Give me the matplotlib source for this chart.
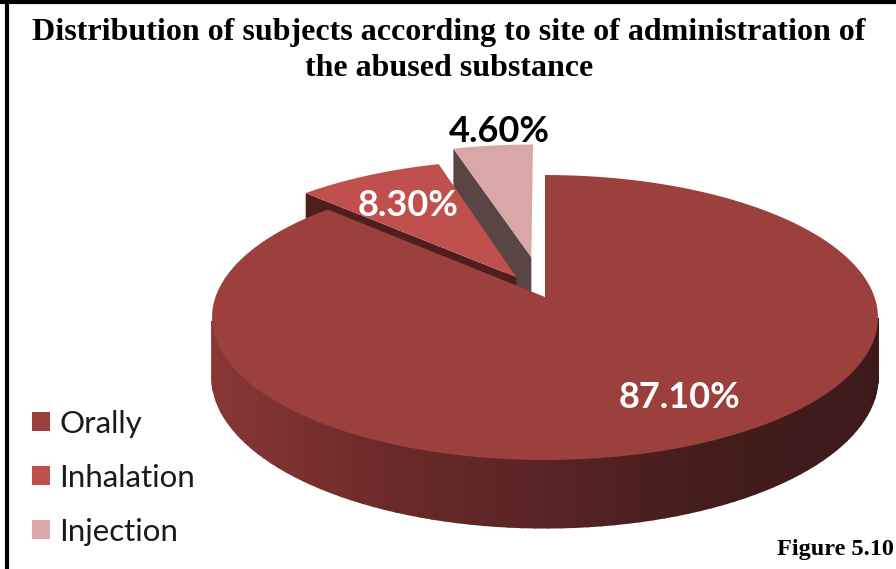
import numpy as np
import matplotlib.pyplot as plt
from matplotlib.patches import Polygon, Patch
from matplotlib.lines import Line2D
from matplotlib.colors import LinearSegmentedColormap

# ── Datos ────────────────────────────────────────────────────────────────────
labels = ["Orally", "Inhalation", "Injection"]
shares = [87.1, 8.3, 4.6]
pct_labels = ["87.10%", "8.30%", "4.60%"]
explode = [0.0, 0.17, 0.30]

top_colors = ["#9b403d", "#c0504d", "#d8a7a6"]
side_colors = ["#7a302e", "#4f1e1e", "#5a4545"]
label_colors = ["white", "white", "black"]

# degradado del borde exterior (de izquierda a derecha)
wall_cmap = LinearSegmentedColormap.from_list(
    "wall", ["#893735", "#6d2b2a", "#5a2424", "#451c1c", "#3d1a1a"])

# ── Proyección en perspectiva del disco (px) ──────────────────────────────────
CX, CY = 545.0, 297.0
RX = 329.5
B = -96.8
K = 0.1439
DEPTH = 58.0


def proyectar(X, Z, h=0.0):
    w = 1.0 + K * np.asarray(Z)
    x = CX + RX * np.asarray(X) / w
    y = (CY + B * np.asarray(Z) + h) / w
    return np.column_stack([x, y])


fig = plt.figure(figsize=(8.96, 5.69), dpi=100)
ax = fig.add_axes([0, 0, 1, 1])
ax.set_xlim(0, 896)
ax.set_ylim(569, 0)
ax.axis("off")

fracs = np.array(shares) / sum(shares)
bordes = np.concatenate([[0], np.cumsum(fracs)]) * 2 * np.pi
cam = np.array([0.0, -1.0 / K])

# orden de pintado: de atrás hacia delante
orden = sorted(range(len(shares)),
               key=lambda i: -np.cos((bordes[i] + bordes[i + 1]) / 2))

for i in orden:
    s, e = bordes[i], bordes[i + 1]
    mid = (s + e) / 2
    dX, dZ = explode[i] * np.sin(mid), explode[i] * np.cos(mid)
    t = np.linspace(s, e, 160)
    Xa, Za = dX + np.sin(t), dZ + np.cos(t)

    # paredes radiales visibles
    for ang, sign in [(s, -1), (e, 1)]:
        normal = sign * np.array([np.cos(ang), -np.sin(ang)])
        if normal @ (cam - np.array([dX, dZ])) > 0.05:
            Xs = [dX, dX + np.sin(ang)]
            Zs = [dZ, dZ + np.cos(ang)]
            top = proyectar(Xs, Zs)
            bot = proyectar(Xs, Zs, DEPTH)
            ax.add_patch(Polygon(np.vstack([top, bot[::-1]]),
                                 closed=True, fc=side_colors[i], ec="none"))

    # pared exterior (solo la parte frontal)
    vis = np.cos(t) < -K
    top = proyectar(Xa, Za)
    bot = proyectar(Xa, Za, DEPTH)
    for j in range(len(t) - 1):
        if vis[j] and vis[j + 1]:
            quad = [top[j], top[j + 1], bot[j + 1], bot[j]]
            c = wall_cmap(np.clip((top[j, 0] - 212) / (878 - 212), 0, 1))
            ax.add_patch(Polygon(quad, closed=True, fc=c, ec=c, lw=1.2))

    # cara superior
    cara = np.vstack([proyectar([dX], [dZ]), top])
    ax.add_patch(Polygon(cara, closed=True, fc=top_colors[i], ec="none"))

# ── Etiquetas de porcentaje ──────────────────────────────────────────────────
pos_etiquetas = [(680, 397), (408, 205), (499, 131)]
for txt, (x, y), col in zip(pct_labels, pos_etiquetas, label_colors):
    ax.text(x, y, txt, color=col, fontsize=26, fontweight="bold",
            family="Lato", ha="center", va="center")

# ── Título y pie ─────────────────────────────────────────────────────────────
ax.text(449, 32, "Distribution of subjects according to site of administration of",
        fontsize=23, fontweight="bold", family="Liberation Serif",
        ha="center", va="center")
ax.text(449, 68, "the abused substance",
        fontsize=23, fontweight="bold", family="Liberation Serif",
        ha="center", va="center")
ax.text(894, 549, "Figure 5.10", fontsize=17.5, fontweight="bold",
        family="Liberation Serif", ha="right", va="center")

# ── Leyenda ──────────────────────────────────────────────────────────────────
handles = [Patch(fc=c, ec="none") for c in top_colors]
leg = ax.legend(handles, labels, loc="upper left",
                bbox_to_anchor=(0.022, 0.302), frameon=False,
                prop={"family": "Lato", "size": 22.5},
                handlelength=0.58, handleheight=0.58, handletextpad=0.29,
                labelspacing=0.83, borderaxespad=0)
for t in leg.get_texts():
    t.set_color("#1a1a1a")

# marco superior e izquierdo
fig.add_artist(Line2D([0.008, 0.008], [0, 1], color="black", lw=3))
fig.add_artist(Line2D([0, 1], [0.997, 0.997], color="black", lw=3))

fig.savefig("out.png", dpi=100)
